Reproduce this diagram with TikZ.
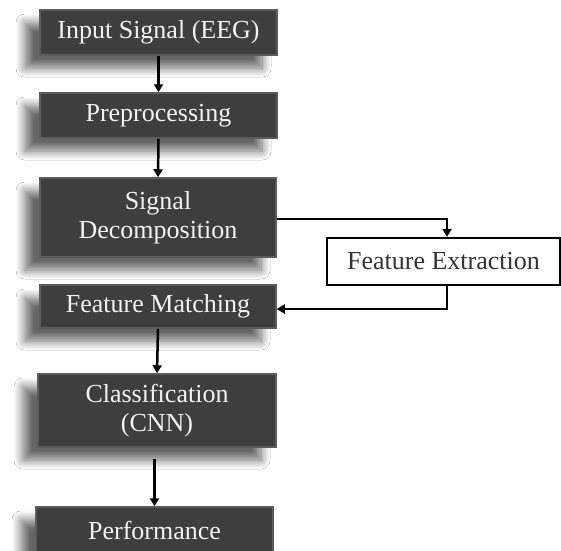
\documentclass[tikz,border=0pt]{standalone}
\usepackage{fontspec}
\setmainfont{Liberation Serif}
\usetikzlibrary{arrows.meta,shadows.blur,calc}
\definecolor{boxfill}{HTML}{3E3E3E}
\definecolor{boxline}{HTML}{5C5C5C}
\definecolor{boxtext}{HTML}{F2F2F2}
\definecolor{darktext}{HTML}{333333}
\tikzset{
  darkbox/.style={draw=boxline, line width=1.5pt, fill=boxfill, text=boxtext,
    inner sep=0pt, align=center, font=\fontsize{26}{29}\selectfont,
    blur shadow={shadow xshift=-15pt, shadow yshift=-13pt, shadow blur radius=9pt,
      shadow blur steps=14, shadow opacity=60}},
  whitebox/.style={draw=black, line width=2.2pt, fill=white, text=darktext,
    inner sep=0pt, align=center, font=\fontsize{26}{29}\selectfont},
  arr/.style={line width=2.5pt, draw=black, -{Triangle[width=9pt,length=8pt]}}
}
\begin{document}
\begin{tikzpicture}[x=1pt,y=-1pt]
\useasboundingbox (0,0) rectangle (561,550);
\fill[white] (0,0) rectangle (561,550);
\node[darkbox, minimum width=237pt, minimum height=45pt] (inp) at (158.5,32.5) {Input Signal (EEG)};
\node[darkbox, minimum width=237pt, minimum height=45pt] (pre) at (158.5,115.5) {Preprocessing};
\node[darkbox, minimum width=236pt, minimum height=79pt] (dec) at (158,217.5) {Signal\\Decomposition};
\node[darkbox, minimum width=236pt, minimum height=43pt] (mat) at (158,306.5) {Feature Matching};
\node[darkbox, minimum width=238pt, minimum height=73pt] (cls) at (157,410.5) {Classification\\(CNN)};
\node[darkbox, minimum width=237pt, minimum height=46pt] (perf) at (154.5,530) {Performance};
\node[whitebox, minimum width=233pt, minimum height=47pt] (fex) at (443.5,261.5) {Feature Extraction};
\draw[arr] (inp.south) -- (pre.north);
\draw[arr] (pre.south) -- (dec.north);
\draw[arr] (mat.south) -- (cls.north);
\draw[arr, shorten <=11pt] (cls.south -| perf.north) -- (perf.north);
\coordinate (c1) at ($(dec.east)+(0,1.5)$);
\draw[arr] (c1) -| ($(fex.north)+(3.5,0)$);
\coordinate (c2) at ($(mat.east)+(0,2.5)$);
\draw[arr] ($(fex.south)+(3.5,0)$) |- (c2);
\end{tikzpicture}
\end{document}
